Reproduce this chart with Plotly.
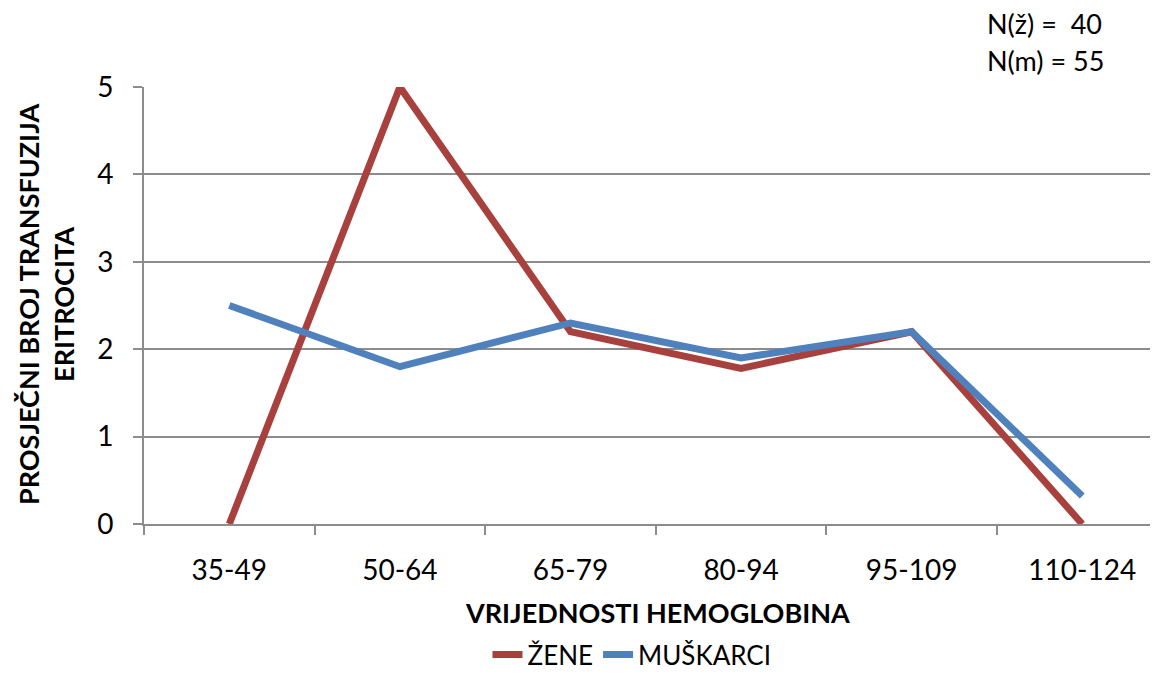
import plotly.graph_objects as go

categories = ["35-49", "50-64", "65-79", "80-94", "95-109", "110-124"]
zene = [0, 5, 2.2, 1.78, 2.2, 0]
muskarci = [2.5, 1.8, 2.3, 1.9, 2.2, 0.32]
y_ticks = [0, 1, 2, 3, 4, 5]

FONT = "Lato, Open Sans, sans-serif"
RED = "#A8413D"
BLUE = "#4F81BD"
GRID = "#8C8C8C"

# page has an 8px body margin; figure coordinates are page coords - 8
W, H = 1150, 670
L, T = 136, 79
PB = 516  # plot bottom (figure px)
PW = W - L
PH = PB - T

def px(x):
    return (x - 8 - L) / PW

def py(y):
    return (PB - (y - 8)) / PH

fig = go.Figure()
fig.add_trace(go.Scatter(x=categories, y=zene, mode="lines", name="ŽENE",
                         line=dict(color=RED, width=7)))
fig.add_trace(go.Scatter(x=categories, y=muskarci, mode="lines", name="MUŠKARCI",
                         line=dict(color=BLUE, width=7)))

fig.update_layout(
    width=W, height=H,
    margin=dict(l=L, r=0, t=T, b=H - PB, pad=0),
    paper_bgcolor="white", plot_bgcolor="white",
    font=dict(family=FONT, size=28, color="black"),
    showlegend=True,
    legend=dict(orientation="h", x=px(632), xanchor="center",
                yref="container", y=-0.016, yanchor="bottom",
                font=dict(size=26), tracegroupgap=0, borderwidth=0),
    xaxis=dict(type="category", range=[-0.5, 5.444],
               showgrid=False, showline=True, linecolor=GRID, linewidth=2,
               ticks="outside", tickson="boundaries", ticklen=9, tickcolor=GRID,
               tickwidth=2, tickfont=dict(size=28), zeroline=False,
               ticklabelstandoff=20),
    yaxis=dict(range=[0, 5], tickvals=y_ticks, showgrid=True, gridcolor=GRID,
               gridwidth=2, showline=True, linecolor=GRID, linewidth=2,
               ticks="outside", ticklen=9, tickcolor=GRID, tickwidth=2,
               tickfont=dict(size=28), zeroline=False, ticklabelstandoff=14),
    annotations=[
        dict(text="<b>VRIJEDNOSTI HEMOGLOBINA</b>", xref="paper", yref="paper",
             x=px(657), y=py(612), xanchor="center", yanchor="middle",
             showarrow=False, font=dict(size=27)),
        dict(text="<b>PROSJEČNI BROJ TRANSFUZIJA<br>ERITROCITA</b>", xref="paper", yref="paper",
             x=px(46), y=py(305), xanchor="center", yanchor="middle",
             textangle=-90, showarrow=False, font=dict(size=27)),
        dict(text="N(ž) =  40", xref="paper", yref="paper",
             x=px(985), y=py(23), xanchor="left", yanchor="middle",
             showarrow=False, font=dict(size=27)),
        dict(text="N(m) = 55", xref="paper", yref="paper",
             x=px(985), y=py(60), xanchor="left", yanchor="middle",
             showarrow=False, font=dict(size=27)),
    ],
)

fig.write_html("out.html")
